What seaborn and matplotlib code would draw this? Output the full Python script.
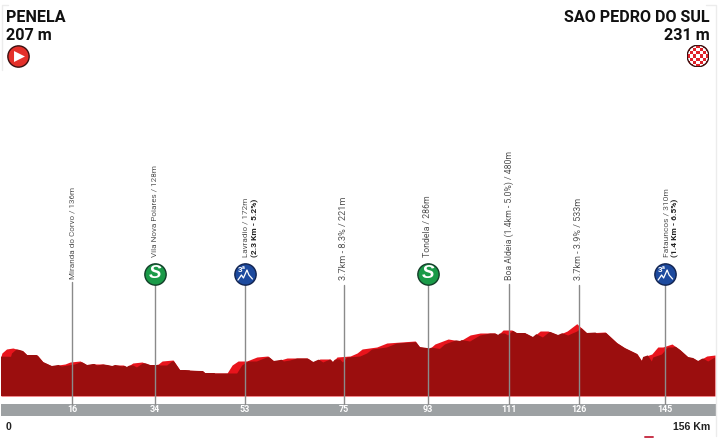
import numpy as np
import matplotlib
matplotlib.use('Agg')
import matplotlib.pyplot as plt
from matplotlib.patches import Circle
import seaborn as sns

# Profile (km, metres)
km = [0, 0.2, 1.2, 2.6, 4.8, 5.7, 7.9, 9.2, 11.1, 12.5, 14, 15.1, 17.3, 18.8, 20.1, 22.3, 24.3, 24.9, 26.7, 27.5,
      28.8, 30.8, 32.6, 34.1, 35.2, 37.6, 39.1, 40.2, 44.1, 44.6, 47.4, 49.4, 50.5, 51.8, 53.7, 55.9, 58.3, 59.6,
      61, 62.5, 66.9, 68.2, 69.7, 71.9, 72.5, 73.4, 76.3, 77.8, 78.9, 82.1, 84.3, 90.5, 91.5, 93.7, 94.8, 97.7,
      100.3, 102.5, 104.7, 107.9, 108.6, 109.7, 111.6, 112.7, 114.5, 116.2, 117.8, 119.5, 121.7, 123.7, 125.8,
      128, 132, 134.6, 136.3, 139, 140, 140.3, 142.2, 143.5, 144.6, 146.6, 148.4, 150.1, 151.2, 152.3, 154.2, 156]
ele = [207, 240, 280, 290, 260, 220, 220, 150, 110, 120, 130, 150, 160, 120, 130, 130, 110, 120, 120, 100,
       140, 150, 120, 120, 160, 170, 70, 70, 60, 40, 40, 40, 120, 160, 160, 200, 210, 160, 170, 190,
       190, 150, 180, 180, 150, 200, 210, 240, 280, 300, 340, 360, 300, 286, 330, 380,
       360, 420, 440, 440, 420, 470, 470, 440, 440, 400, 460, 460, 420, 460, 533,
       440, 450, 340, 290, 230, 160, 200, 230, 300, 300, 330, 270, 200, 190, 160, 210, 220]

check_km = [15.6, 33.6, 53.3, 74.9, 93.2, 111, 126.2, 145.1]
check_labels = ['16', '34', '53', '75', '93', '111', '126', '145']
check_tops = [282, 284, 284, 285, 284, 284, 285, 284]
check_names = ['Miranda do Corvo / 136m', 'Vila Nova Poiares / 128m', 'Lavradio / 172m', '3.7km - 8.3% / 221m',
               'Tondela / 286m', 'Boa Aldeia (1.4km - 5.0%) / 480m', '3.7km - 3.9% / 533m', 'Fatauncos / 310m']
check_bottoms = [279, 257, 257, 280, 257, 280, 280, 257]
check_sizes = [5.9, 5.9, 5.9, 6.6, 6.3, 6.3, 6.5, 6.0]
climb_notes = {2: '(2.3 Km - 5.2%)', 7: '(1.4 Km - 6.5%)'}
sprint_km = [33.6, 93.2]
climb_km = [53.3, 145.1]

start_name, start_alt = 'PENELA', '207 m'
end_name, end_alt = 'SAO PEDRO DO SUL', '231 m'
total_label = '156 Km'

sns.set_theme(style='white')
plt.rcParams['font.family'] = ['Roboto', 'DejaVu Sans']

W, H = 720, 438
PX_KM = 4.577
PX_M = 0.1
ZERO_Y = 377


def to_ele(y):
    return (ZERO_Y - y) / PX_M


def to_x(k):
    return 1 + PX_KM * k


fig = plt.figure(figsize=(W / 100, H / 100), dpi=100)
ax = fig.add_axes([0, 0, 1, 1])
ax.set_xlim(-1 / PX_KM, (W - 1) / PX_KM)
ax.set_ylim(to_ele(H), to_ele(0))
ax.axis('off')

# overlay in pixels for the small decorations
ov = fig.add_axes([0, 0, 1, 1], zorder=5)
ov.set_xlim(0, W)
ov.set_ylim(H, 0)
ov.axis('off')
ov.patch.set_alpha(0)

km_arr = np.array(km)
ele_arr = np.array(ele)
base = to_ele(396)

# bright layer then dark layer shifted along, clipped to the bright one
bright = ax.fill_between(km_arr, ele_arr, base, color='#e8141c', lw=0, zorder=2)
shift_x = np.concatenate([[-5], km_arr + 2.2, [165]])
shift_y = np.concatenate([[ele[0]], ele_arr - 5, [ele[-1]]])
dark = ax.fill_between(shift_x, shift_y, base, color='#9b0e0e', lw=0, zorder=3)
dark.set_clip_path(bright.get_paths()[0], transform=ax.transData)

# km band
ax.fill_between([-0.1, 156.3], to_ele(416), to_ele(404), color='#9da1a3', lw=0, zorder=1)

# check points
for k, lab, top in zip(check_km, check_labels, check_tops):
    sns.lineplot(x=[k, k], y=[to_ele(top), to_ele(404)], estimator=None, sort=False, color='#8a8a8a', lw=1.0,
                 ax=ax, zorder=4, legend=False)
    ax.text(k, to_ele(410), lab, color='white', fontsize=6.4, fontweight='bold', ha='center', va='center', zorder=6)

for i, (k, name, b, size) in enumerate(zip(check_km, check_names, check_bottoms, check_sizes)):
    x = to_x(k) + (1 if i in climb_notes else 0)
    ov.text(x, b, name, rotation=90, color='#555555', fontsize=size, ha='center', va='bottom')
    if i in climb_notes:
        ov.text(x + 9.5, b, climb_notes[i], rotation=90, color='#222222', fontsize=6.0, fontweight='bold',
                ha='center', va='bottom')

# badges
badge_ele = to_ele(273.5)
sns.scatterplot(x=sprint_km, y=[badge_ele] * len(sprint_km), s=235, color='#1a9a48', edgecolor='#123d28',
                linewidth=1.0, ax=ax, zorder=7, legend=False)
sns.scatterplot(x=climb_km, y=[badge_ele] * len(climb_km), s=235, color='#1d4a9e', edgecolor='#12234f',
                linewidth=1.0, ax=ax, zorder=7, legend=False)
for k in sprint_km:
    ov.text(to_x(k), 274, 'S', color='white', fontsize=13.5, fontweight='bold', style='italic',
            ha='center', va='center', family=['Liberation Sans', 'DejaVu Sans'])
for k in climb_km:
    x = to_x(k)
    ov.text(x - 3, 269.5, '3ª', color='white', fontsize=5.8, fontweight='bold', ha='center', va='center')
    ov.plot(x + np.array([-7, -3.5, -1.5, 2, 4, 7.5]), np.array([280, 275, 278, 270, 275, 279]),
            color='white', lw=0.9, solid_capstyle='round')

# start and finish
ov.text(6, 18, start_name, fontsize=11.6, fontweight='bold', color='#111111', va='center', ha='left')
ov.text(6, 35, start_alt, fontsize=11.6, fontweight='bold', color='#111111', va='center', ha='left')
ov.text(710, 18, end_name, fontsize=11.6, fontweight='bold', color='#111111', va='center', ha='right')
ov.text(710, 35, end_alt, fontsize=11.6, fontweight='bold', color='#111111', va='center', ha='right')

ov.scatter([18], [56], s=235, color='#e4302a', edgecolor='#3a1010', linewidth=1.0, zorder=3)
ov.scatter([18.5], [56], s=62, marker='>', color='white', lw=0, zorder=4)

flag = fig.add_axes([687 / W, 1 - 67 / H, 22 / W, 22 / H], zorder=6)
cells = np.indices((7, 7)).sum(axis=0) % 2
sns.heatmap(cells, cmap=['#ffffff', '#e0222a'], cbar=False, ax=flag, xticklabels=False, yticklabels=False)
ring = Circle((3.5, 3.5), 3.45, transform=flag.transData, fc='none', ec='#3a1010', lw=1.0)
flag.add_patch(ring)
flag.collections[0].set_clip_path(ring)
flag.axis('off')

# bottom labels
ov.text(6, 427.5, '0', fontsize=7.6, fontweight='bold', color='#222222', va='center', ha='left',
        family=['Liberation Sans', 'DejaVu Sans'])
ov.text(710, 427.5, total_label, fontsize=7.6, fontweight='bold', color='#222222', va='center', ha='right',
        family=['Liberation Sans', 'DejaVu Sans'])

# faint sheet edge
ov.plot([8, 1.5, 1.5], [5, 5, 70], color='#ececec', lw=1)
ov.plot([706, 716, 716], [5, 5, 436], color='#ececec', lw=1)
ov.plot([645, 653], [437.4, 437.4], color='#c8344a', lw=1.4)

fig.savefig('out.png', dpi=100)
